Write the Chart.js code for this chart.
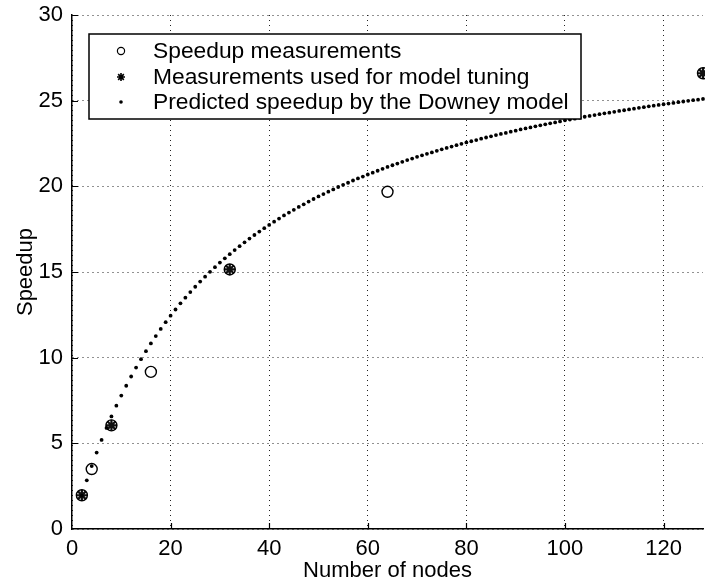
<!DOCTYPE html>
<html><head><meta charset="utf-8">
<script src="https://cdn.jsdelivr.net/npm/chart.js@4"></script>
<style>html,body{margin:0;padding:0;background:#fff}</style>
</head><body>
<canvas id="c" width="705" height="586" style="display:block;width:705px;height:586px"></canvas>
<script>
// Speedup measurements (open circles)
const measNodes = [2, 4, 8, 16, 32, 64, 128];
const measSpeedup = [1.97, 3.5, 6.05, 9.17, 15.15, 19.68, 26.6];
// Measurements used for model tuning (asterisks)
const tuneNodes = [2, 8, 32, 128];
const tuneSpeedup = [1.97, 6.05, 15.15, 26.6];
// Predicted speedup by the Downey model (dots)
const predNodes = [2,3,4,5,6,7,8,9,10,11,12,13,14,15,16,17,18,19,20,21,22,23,24,25,26,27,28,29,30,31,32,33,34,35,36,37,38,39,40,41,42,43,44,45,46,47,48,49,50,51,52,53,54,55,56,57,58,59,60,61,62,63,64,65,66,67,68,69,70,71,72,73,74,75,76,77,78,79,80,81,82,83,84,85,86,87,88,89,90,91,92,93,94,95,96,97,98,99,100,101,102,103,104,105,106,107,108,109,110,111,112,113,114,115,116,117,118,119,120,121,122,123,124,125,126,127,128];
const predSpeedup = [1.95,2.84,3.67,4.46,5.20,5.90,6.57,7.20,7.79,8.36,8.90,9.42,9.91,10.38,10.83,11.26,11.68,12.07,12.45,12.81,13.17,13.50,13.83,14.14,14.44,14.73,15.01,15.28,15.55,15.80,16.04,16.28,16.51,16.73,16.95,17.16,17.36,17.56,17.75,17.94,18.12,18.30,18.47,18.63,18.80,18.95,19.11,19.26,19.41,19.55,19.69,19.82,19.96,20.09,20.21,20.34,20.46,20.57,20.69,20.80,20.91,21.02,21.13,21.23,21.33,21.43,21.53,21.62,21.72,21.81,21.90,21.98,22.07,22.16,22.24,22.32,22.40,22.48,22.56,22.63,22.70,22.78,22.85,22.92,22.99,23.06,23.12,23.19,23.25,23.32,23.38,23.44,23.50,23.56,23.62,23.68,23.73,23.79,23.85,23.90,23.95,24.01,24.06,24.11,24.16,24.21,24.26,24.30,24.35,24.40,24.44,24.49,24.53,24.58,24.62,24.67,24.71,24.75,24.79,24.83,24.87,24.91,24.95,24.99,25.03,25.06,25.10];
const xTicks = [0, 20, 40, 60, 80, 100, 120];
const yTicks = [0, 5, 10, 15, 20, 25, 30];
const seriesLabels = ['Speedup measurements', 'Measurements used for model tuning', 'Predicted speedup by the Downey model'];
const xTitle = 'Number of nodes';
const yTitle = 'Speedup';

const FONT = "'Liberation Sans', Arial, Helvetica, sans-serif";
const pts = (xs, ys) => xs.map((x, i) => ({x: x, y: ys[i]}));

const innerTicks = {
  id: 'innerTicks',
  afterDatasetsDraw(chart) {
    const {ctx, chartArea: a, scales: {x, y}} = chart;
    ctx.save();
    ctx.strokeStyle = '#000';
    ctx.lineWidth = 1.2;
    ctx.beginPath();
    xTicks.forEach(v => { if (v === 0) return; const px = Math.round(x.getPixelForValue(v)) + 0.5; ctx.moveTo(px, a.bottom); ctx.lineTo(px, a.bottom - 6); });
    yTicks.forEach(v => { if (v === 0) return; const py = Math.round(y.getPixelForValue(v)) + 0.5; ctx.moveTo(a.left, py); ctx.lineTo(a.left + 6, py); });
    ctx.stroke();
    ctx.restore();
  }
};

const boxLegend = {
  id: 'boxLegend',
  afterDraw(chart) {
    const ctx = chart.ctx;
    const L = 89, T = 34, R = 581, B = 119;
    ctx.save();
    ctx.fillStyle = '#fff';
    ctx.fillRect(L, T, R - L, B - T);
    ctx.strokeStyle = '#000';
    ctx.lineWidth = 1.5;
    ctx.strokeRect(L, T, R - L, B - T);
    const ds = chart.data.datasets;
    const rowY = [51, 77, 102];
    const mx = 121, tx = 153;
    ctx.font = '22.8px ' + FONT;
    ctx.fillStyle = '#000';
    ctx.textBaseline = 'middle';
    ctx.textAlign = 'left';
    ctx.lineWidth = 1.2;
    ctx.beginPath(); ctx.arc(mx, rowY[0], 3.6, 0, Math.PI * 2); ctx.stroke();
    ctx.lineWidth = 1.6;
    ctx.beginPath();
    for (let k = 0; k < 4; k++) {
      const ang = k * Math.PI / 4;
      ctx.moveTo(mx - 4 * Math.cos(ang), rowY[1] - 4 * Math.sin(ang));
      ctx.lineTo(mx + 4 * Math.cos(ang), rowY[1] + 4 * Math.sin(ang));
    }
    ctx.stroke();
    ctx.beginPath(); ctx.arc(mx, rowY[2], 1.8, 0, Math.PI * 2); ctx.fill();
    ds.forEach(d => { ctx.fillText(d.label, tx, rowY[d.legendRow] + 1); });
    ctx.restore();
  }
};

const axisCommon = (title, titlePad, tickPad) => ({
  type: 'linear',
  grid: { color: '#222', lineWidth: 1, drawTicks: false },
  border: { display: true, color: '#000', width: 1.5, dash: [1, 4] },
  ticks: { color: '#000', padding: tickPad, font: { family: FONT, size: 22 }, maxRotation: 0 },
  title: { display: true, text: title, color: '#000', font: { family: FONT, size: 22 }, padding: titlePad }
});

const xAxis = axisCommon(xTitle, {top: 0, bottom: 2}, 7);
xAxis.min = 0; xAxis.max = 128;
xAxis.afterBuildTicks = s => { s.ticks = xTicks.map(v => ({value: v})); };
xAxis.afterFit = s => { s.height = 57; s.paddingLeft = 0; s.paddingRight = 0; };

const yAxis = axisCommon(yTitle, {top: 13, bottom: 0}, 9);
yAxis.min = 0; yAxis.max = 30;
yAxis.afterBuildTicks = s => { s.ticks = yTicks.map(v => ({value: v})); };
yAxis.afterFit = s => { s.width = 72; s.paddingTop = 0; s.paddingBottom = 0; };

new Chart(document.getElementById('c'), {
  type: 'scatter',
  data: {
    datasets: [
      { label: seriesLabels[2], legendRow: 2, data: pts(predNodes, predSpeedup), pointStyle: 'circle', pointRadius: 1.9, borderWidth: 0, backgroundColor: '#000', borderColor: '#000', clip: false },
      { label: seriesLabels[0], legendRow: 0, data: pts(measNodes, measSpeedup), pointStyle: 'circle', pointRadius: 5.5, borderWidth: 1.4, backgroundColor: 'rgba(0,0,0,0)', borderColor: '#000', clip: false },
      { label: seriesLabels[1], legendRow: 1, data: pts(tuneNodes, tuneSpeedup), pointStyle: 'star', pointRadius: 5.5, borderWidth: 2.2, backgroundColor: '#000', borderColor: '#111', clip: false }
    ]
  },
  options: {
    responsive: false,
    animation: false,
    events: [],
    layout: { autoPadding: false, padding: { top: 15, right: 2, left: 0, bottom: 0 } },
    plugins: { legend: { display: false }, tooltip: { enabled: false } },
    scales: { x: xAxis, y: yAxis }
  },
  plugins: [innerTicks, boxLegend]
});
</script>
</body></html>
